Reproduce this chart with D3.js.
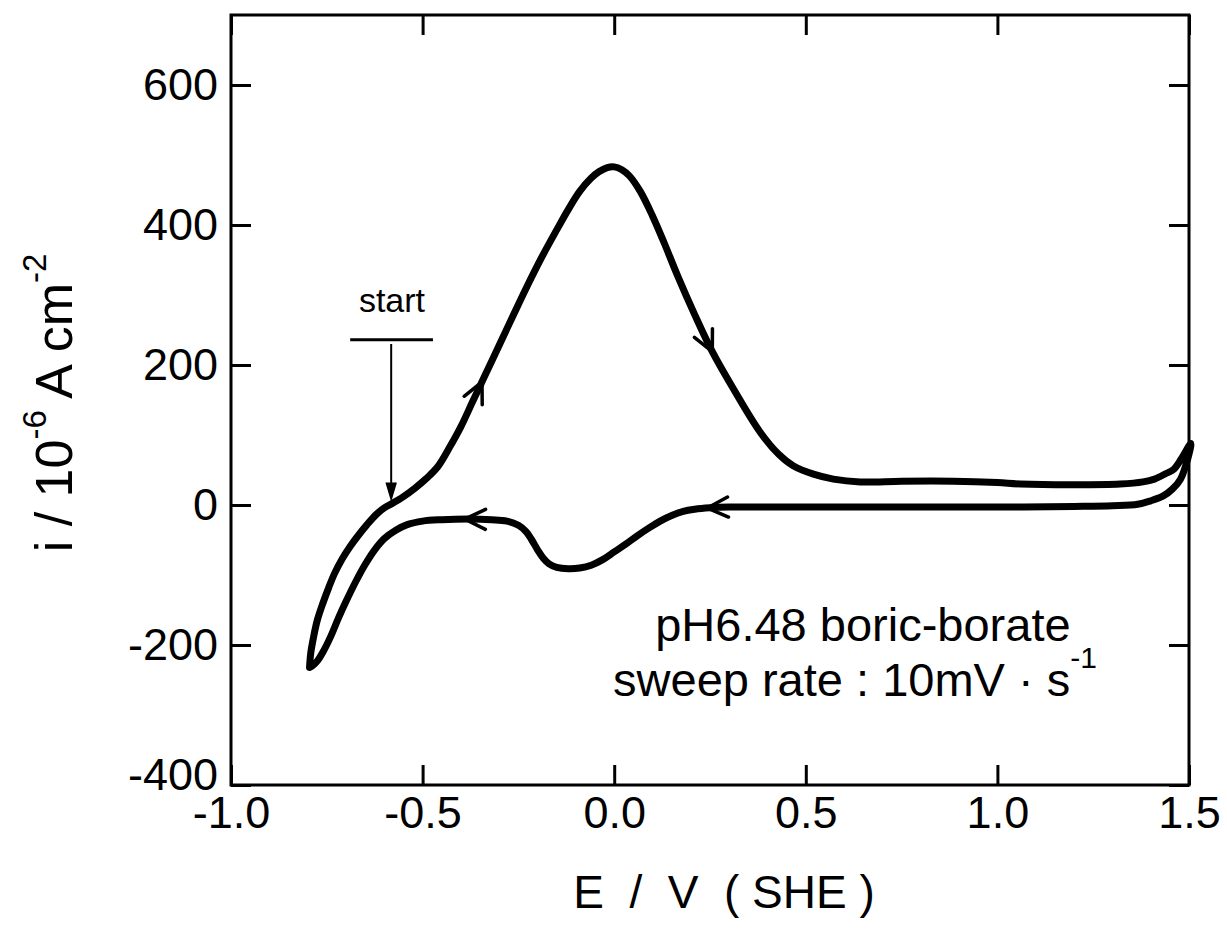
<!DOCTYPE html>
<html>
<head>
<meta charset="utf-8">
<script src="https://cdn.jsdelivr.net/npm/d3@7"></script>
<style>
  body { margin: 0; background: #fff; }
  text { font-family: "Liberation Sans", Arial, Helvetica, sans-serif; fill: #000; }
</style>
</head>
<body>
<svg id="chart" width="1227" height="932"></svg>
<script>
// anodic sweep, from the negative turning point up to 1.5 V
let anodicE = [-0.795, -0.792, -0.785, -0.775, -0.76, -0.745, -0.73, -0.71, -0.69, -0.67, -0.645, -0.62, -0.60,
    -0.58, -0.55, -0.52, -0.49, -0.46, -0.43, -0.40, -0.37, -0.345, -0.32, -0.29, -0.26, -0.225, -0.19, -0.15,
    -0.12, -0.09, -0.06, -0.04, -0.018, 0.0, 0.02, 0.04, 0.068, 0.10, 0.13, 0.165, 0.21, 0.256, 0.311, 0.381,
    0.43, 0.467, 0.52, 0.572, 0.642, 0.75, 0.885, 1.00, 1.06, 1.20, 1.32, 1.38, 1.41, 1.44, 1.46, 1.48, 1.505]
let anodicI = [-232, -212, -190, -165, -140, -118, -98, -77, -60, -45, -28, -13, -4,
    2, 12, 24, 38, 55, 82, 112, 147, 176, 205, 240, 275, 315, 353, 393,
    422, 448, 467, 476, 482, 483, 479, 470, 448, 413, 375, 328, 272, 219, 166, 104,
    72, 56, 44, 37, 33, 34, 34, 32, 30, 29, 30, 33, 37, 45, 51, 66, 88]

// return (cathodic) sweep, from 1.5 V back to the turning point
let cathodicE = [1.505, 1.478, 1.455, 1.433, 1.40, 1.366, 1.30, 1.20, 1.0, 0.8, 0.6, 0.4, 0.30, 0.25, 0.21,
    0.18, 0.15, 0.12, 0.09, 0.06, 0.03, 0.0, -0.03, -0.06, -0.09, -0.12, -0.15, -0.17, -0.185, -0.20,
    -0.215, -0.23, -0.25, -0.28, -0.32, -0.38, -0.45, -0.50, -0.54, -0.57, -0.60, -0.625, -0.65, -0.675,
    -0.70, -0.72, -0.74, -0.76, -0.775, -0.788, -0.795]
let cathodicI = [88, 37, 22, 13, 6, 1, -1, -2, -3, -3, -3, -3, -3, -4, -6,
    -9, -15, -23, -33, -44, -56, -67, -78, -86, -90, -91, -89, -84, -76, -64,
    -50, -38, -29, -23, -21, -20, -21, -23, -28, -36, -48, -64, -85, -110,
    -138, -162, -188, -210, -223, -230, -232]

// where the direction arrows sit on each branch
let anodicArrowE = [-0.345, 0.256]
let cathodicArrowE = [-0.39, 0.243]

let startE = -0.582
let xTicks = [-1.0, -0.5, 0.0, 0.5, 1.0, 1.5]
let xTickLabels = ['-1.0', '-0.5', '0.0', '0.5', '1.0', '1.5']
let yTicks = [-400, -200, 0, 200, 400, 600]
let yTickLabels = ['-400', '-200', '0', '200', '400', '600']

let margin = {top: 15, left: 231},
    width = 958,
    height = 770

let svg = d3.select('#chart')
svg.append('rect').attr('width', 1227).attr('height', 932).attr('fill', '#fff')
let g = svg.append('g').attr('transform', 'translate(' + margin.left + ',' + margin.top + ')')

let x = d3.scaleLinear().domain([-1.0, 1.5]).range([0, width])
let y = d3.scaleLinear().domain([-400, 700]).range([height, 0])

function styleAxis(sel) {
    sel.select('.domain').remove()
    sel.selectAll('.tick line').attr('stroke', '#000').attr('stroke-width', 3)
    sel.selectAll('.tick text').attr('font-size', 45).attr('fill', '#000')
        .attr('font-family', '"Liberation Sans", Arial, sans-serif')
}

g.append('g')
    .attr('transform', 'translate(0,' + height + ')')
    .call(d3.axisBottom(x).tickValues(xTicks).tickSize(-20).tickPadding(11)
        .tickFormat((d, i) => xTickLabels[i]))
    .call(styleAxis)

g.append('g')
    .call(d3.axisTop(x).tickValues(xTicks).tickSize(-20).tickFormat(''))
    .call(styleAxis)

let yAxis = g.append('g')
    .call(d3.axisLeft(y).tickValues(yTicks).tickSize(-20).tickPadding(13)
        .tickFormat((d, i) => yTickLabels[i]))
    .call(styleAxis)
// lowest label sits a little high so it clears the -1.0 label
yAxis.selectAll('.tick text').filter(d => d === -400).attr('dy', '0.1em')

g.append('g')
    .attr('transform', 'translate(' + width + ',0)')
    .call(d3.axisRight(y).tickValues(yTicks).tickSize(-20).tickFormat(''))
    .call(styleAxis)

g.append('rect')
    .attr('width', width).attr('height', height)
    .attr('fill', 'none').attr('stroke', '#000').attr('stroke-width', 3)

// the voltammogram
let loop = anodicE.map((e, i) => [e, anodicI[i]])
    .concat(cathodicE.slice(1).map((e, i) => [e, cathodicI[i + 1]]))

let line = d3.line()
    .x(d => x(d[0]))
    .y(d => y(d[1]))
    .curve(d3.curveCatmullRom.alpha(0.5))

g.append('path')
    .datum(loop)
    .attr('d', line)
    .attr('fill', 'none')
    .attr('stroke', '#000')
    .attr('stroke-width', 7)
    .attr('stroke-linejoin', 'round')
    .attr('stroke-linecap', 'round')

function interp(es, is, e) {
    for (let k = 0; k < es.length - 1; k++) {
        let a = es[k], b = es[k + 1]
        if ((e - a) * (e - b) <= 0 && a !== b) {
            return is[k] + (is[k + 1] - is[k]) * (e - a) / (b - a)
        }
    }
    return is[is.length - 1]
}

function drawArrow(es, is, e, dir) {
    let back = e - dir * 0.03
    let px = x(e), py = y(interp(es, is, e))
    let qx = x(back), qy = y(interp(es, is, back))
    let ang = Math.atan2(py - qy, px - qx)
    let len = 23, spread = 0.45
    let pts = [
        [px - len * Math.cos(ang - spread), py - len * Math.sin(ang - spread)],
        [px, py],
        [px - len * Math.cos(ang + spread), py - len * Math.sin(ang + spread)]
    ]
    g.append('path')
        .attr('d', d3.line()(pts))
        .attr('fill', 'none')
        .attr('stroke', '#000')
        .attr('stroke-width', 3.5)
        .attr('stroke-linecap', 'round')
        .attr('stroke-linejoin', 'miter')
}

anodicArrowE.forEach(e => drawArrow(anodicE, anodicI, e, 1))
cathodicArrowE.forEach(e => drawArrow(cathodicE, cathodicI, e, -1))

// "start" marker
let sx = x(startE)
g.append('text')
    .attr('x', x(-0.58)).attr('y', y(276))
    .attr('text-anchor', 'middle')
    .attr('font-size', 34)
    .text('start')
g.append('line')
    .attr('x1', x(-0.689)).attr('x2', x(-0.473))
    .attr('y1', y(236)).attr('y2', y(236))
    .attr('stroke', '#000').attr('stroke-width', 3)
g.append('line')
    .attr('x1', sx).attr('x2', sx)
    .attr('y1', y(230)).attr('y2', y(22))
    .attr('stroke', '#000').attr('stroke-width', 2)
g.append('path')
    .attr('d', d3.line()([[sx - 5, y(32)], [sx, y(8)], [sx + 5, y(32)]]))
    .attr('fill', '#000').attr('stroke', '#000').attr('stroke-width', 1.5)

// conditions
g.append('text')
    .attr('x', x(0.107)).attr('y', y(-194))
    .attr('font-size', 47)
    .text('pH6.48 boric-borate')

let sweep = g.append('text')
    .attr('x', x(-0.003)).attr('y', y(-273))
    .attr('font-size', 47)
sweep.append('tspan').text('sweep rate : 10mV \u00b7 s')
sweep.append('tspan').attr('dy', -28).attr('font-size', 30).text('-1')

// axis titles
svg.append('text')
    .attr('x', 724).attr('y', 908)
    .attr('text-anchor', 'middle')
    .attr('font-size', 46)
    .attr('xml:space', 'preserve')
    .style('white-space', 'pre')
    .text('E  /  V  ( SHE )')

let yt = svg.append('text')
    .attr('transform', 'translate(72,' + 403 + ') rotate(-90)')
    .attr('text-anchor', 'middle')
    .attr('font-size', 52)
    .style('white-space', 'pre')
yt.append('tspan').text('i / 10')
yt.append('tspan').attr('dy', -26).attr('font-size', 33).text('-6')
yt.append('tspan').attr('dy', 26).text(' A cm')
yt.append('tspan').attr('dy', -26).attr('font-size', 33).text('-2')
</script>
</body>
</html>
